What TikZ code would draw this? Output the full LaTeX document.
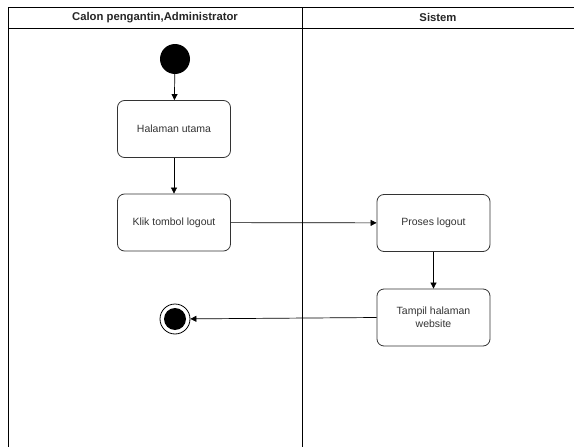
\documentclass[tikz,border=0pt]{standalone}
\usepackage{fontspec}
\setmainfont{Liberation Sans}
\usetikzlibrary{arrows.meta}
\begin{document}
\begin{tikzpicture}[x=1pt,y=-1pt,
  act/.style={draw=black!80, rounded corners=7pt, minimum width=113pt, minimum height=57pt, align=center, font=\fontsize{10.5}{13}\selectfont, text=black!80, line width=0.8pt},
  flow/.style={-{Triangle[length=6pt,width=6pt]}, line width=0.7pt},
  lane/.style={line width=0.8pt},
  hdr/.style={font=\bfseries\fontsize{11.3}{13}\selectfont, text=black!85}]
\useasboundingbox (0,0) rectangle (574,447);
\fill[white] (0,0) rectangle (574,447);
% swimlane frame
\draw[lane] (8,447) -- (8,7) -- (574,7);
\draw[lane] (8,28) -- (574,28);
\draw[lane] (302,7) -- (302,447);
\node[hdr] (h1) at (155,17.5) {Calon pengantin,Administrator};
\node[hdr] (h2) at (438,17.5) {Sistem};
% nodes
\node[circle, fill=black, minimum size=30pt, inner sep=0] (start) at (175,59) {};
\node[act] (a1) at (174,129) {Halaman utama};
\node[act] (a2) at (174,222.5) {Klik tombol logout};
\node[act] (a3) at (433.5,223) {Proses logout};
\node[act] (a4) at (433.5,317.5) {Tampil halaman\\website};
\node[circle, draw=black, line width=0.8pt, minimum size=30pt, inner sep=0] (end) at (175,319) {};
\fill (end.center) circle (11pt);
% connectors
\draw[flow] (start) -- (a1);
\draw[flow] (a1) -- (a2);
\draw[flow] (a2) -- (a3);
\draw[flow] (a3) -- (a4);
\draw[flow] (a4.west) -- (end);
\end{tikzpicture}
\end{document}
